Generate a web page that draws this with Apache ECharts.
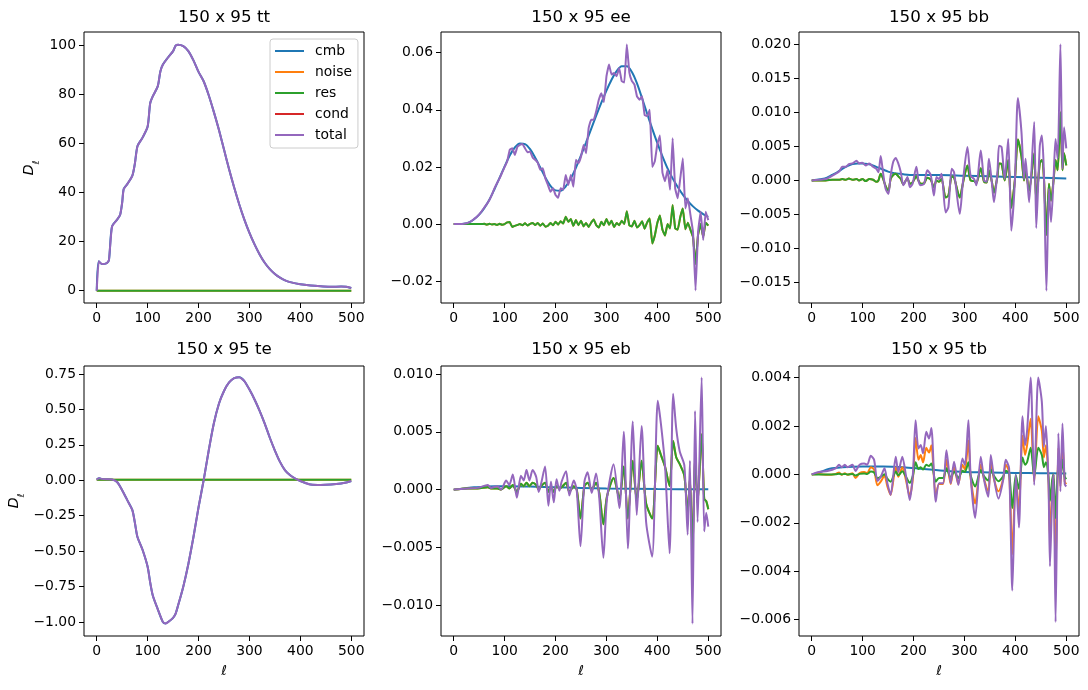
<!DOCTYPE html>
<html><head><meta charset="utf-8">
<script src="https://cdn.jsdelivr.net/npm/echarts@6/dist/echarts.min.js"></script>
<style>html,body{margin:0;padding:0;background:#fff}#c{width:1088px;height:690px}</style>
</head><body><div id="c"></div><script>
// ---------------- DATA ----------------
const seriesNames = ['cmb', 'noise', 'res', 'cond', 'total'];
const seriesColors = ['#1f77b4', '#ff7f0e', '#2ca02c', '#d62728', '#9467bd'];
const panelTitles = ['150 x 95 tt', '150 x 95 ee', '150 x 95 bb', '150 x 95 te', '150 x 95 eb', '150 x 95 tb'];

const xTicks = [0, 100, 200, 300, 400, 500];
const xTickLabels = ['0', '100', '200', '300', '400', '500'];

const ttYTicks = [0, 20, 40, 60, 80, 100];
const ttYLabels = ['0', '20', '40', '60', '80', '100'];
const eeYTicks = [-0.02, 0, 0.02, 0.04, 0.06];
const eeYLabels = ['\u22120.02', '0.00', '0.02', '0.04', '0.06'];
const bbYTicks = [-0.015, -0.01, -0.005, 0, 0.005, 0.01, 0.015, 0.02];
const bbYLabels = ['\u22120.015', '\u22120.010', '\u22120.005', '0.000', '0.005', '0.010', '0.015', '0.020'];
const teYTicks = [-1, -0.75, -0.5, -0.25, 0, 0.25, 0.5, 0.75];
const teYLabels = ['\u22121.00', '\u22120.75', '\u22120.50', '\u22120.25', '0.00', '0.25', '0.50', '0.75'];
const ebYTicks = [-0.01, -0.005, 0, 0.005, 0.01];
const ebYLabels = ['\u22120.010', '\u22120.005', '0.000', '0.005', '0.010'];
const tbYTicks = [-0.006, -0.004, -0.002, 0, 0.002, 0.004];
const tbYLabels = ['\u22120.006', '\u22120.004', '\u22120.002', '0.000', '0.002', '0.004'];

// flat (zero-level) series end points
const flatEll = [0, 500];
const ttRes = [0, 0];
const teRes = [0.003, 0.003];

// tt
const ttEll = [0,4,10,20,24,30,40,46,50,53,60,70,75,80,90,100,105,110,120,125,130,140,150,155,160,170,180,190,200,210,220,230,240,250,260,270,280,290,300,310,320,330,340,350,360,370,380,400,420,440,460,480,490,500];
const ttTotal = [0,12.0,10.9,11.3,12.5,26.2,29.0,31.0,36,41.5,43.5,47,52,59,62.5,67,76.5,79.3,83.5,89.5,92.3,95.2,97.8,100.0,100.4,99.8,97.8,94.0,89.3,85.5,79.8,73.0,65.7,57.6,49.6,42.1,35.2,29.0,23.6,18.9,14.8,11.4,8.8,6.8,5.3,4.2,3.5,2.6,2.1,1.8,1.6,1.7,1.6,1.1];

// te
const teEll = [0,5,10,20,30,40,50,60,70,75,80,90,100,105,110,120,130,135,140,150,155,160,170,180,190,200,210,220,230,240,250,260,270,280,290,300,310,320,330,340,350,360,370,380,390,400,410,420,440,460,480,490,500];
const teTotal = [0.005,0.014,0.010,0.007,0.005,-0.012,-0.07,-0.14,-0.21,-0.30,-0.40,-0.49,-0.61,-0.72,-0.81,-0.91,-1.00,-1.01,-1.00,-0.97,-0.94,-0.88,-0.75,-0.59,-0.40,-0.19,0.00,0.21,0.40,0.54,0.63,0.69,0.72,0.727,0.70,0.64,0.57,0.49,0.40,0.30,0.21,0.13,0.07,0.035,0.012,-0.005,-0.019,-0.030,-0.033,-0.030,-0.023,-0.016,-0.005];

// ee (multipoles every 5 for noisy, every 10 for cmb)
const ell5 = []; for (let l = 0; l <= 500; l += 5) ell5.push(l);
const ell10 = []; for (let l = 0; l <= 500; l += 10) ell10.push(l);
const eeCmb = [0,0,0.0001,0.0006,0.0017,0.0033,0.0056,0.0085,0.0122,0.0162,0.0202,0.0240,0.0268,0.0282,0.0280,0.0262,0.0232,0.0198,0.0163,0.0134,0.0118,0.0117,0.0132,0.0160,0.0197,0.0240,0.0286,0.0333,0.0380,0.0425,0.0467,0.0505,0.0535,0.0552,0.0552,0.0532,0.0492,0.0440,0.0386,0.0333,0.0283,0.0237,0.0195,0.0160,0.0130,0.0103,0.0080,0.0062,0.0047,0.0035,0.0025];
const eeTotal = [
 0,0,0,0,0.0001,0.0003,0.0006,0.0011,0.0018,0.0025,
 0.0034,0.0045,0.0058,0.0070,0.0084,0.0103,0.0125,0.0143,0.0160,0.0180,
 0.0200,0.0219,0.0260,0.0265,0.0242,0.0270,0.0277,0.0280,0.0265,0.0251,
 0.0254,0.0233,0.0225,0.0215,0.0190,0.0195,0.0160,0.0137,0.0113,0.0125,
 0.0102,0.0092,0.0125,0.0120,0.0172,0.0137,0.0172,0.0131,0.0225,0.0213,
 0.0236,0.0277,0.0248,0.0336,0.0365,0.0365,0.0396,0.0435,0.0458,0.0427,
 0.0517,0.0558,0.0523,0.0529,0.0517,0.0546,0.0500,0.0495,0.0628,0.0530,
 0.0500,0.0488,0.0447,0.0435,0.0447,0.0382,0.0377,0.0400,0.0200,0.0220,
 0.0280,0.0310,0.0180,0.0150,0.0190,0.0120,0.0300,0.0125,0.0090,0.0160,
 0.0230,0.0055,0.0090,0.0032,-0.0027,-0.0232,-0.0027,0.0043,-0.0056,0.0043,
 0.0014];
const eeRes = [
 0,0,0,0,0,0,0,0,0,0,
 0,0,0.0001,-0.0002,0.0001,-0.0001,0,-0.0003,0.0001,-0.0002,
 0,0.0006,0.0007,-0.0010,-0.0006,-0.0003,0,-0.0004,0.0003,-0.0005,
 0.0001,0.0004,-0.0003,0.0004,-0.0006,0.0002,-0.0009,-0.0006,0.0004,-0.0004,
 0.0008,-0.0002,0.0010,0.0002,0.0026,0.0008,0.0018,-0.0006,0.0014,-0.0004,
 0.0012,-0.0008,0.0004,-0.0010,0.0005,0.0016,-0.0004,-0.0012,0.0008,-0.0004,
 0.0018,-0.0002,0.0012,-0.0010,0.0004,-0.0004,0.0012,0.0000,0.0045,-0.0005,
 -0.0008,0.0012,-0.0012,-0.0004,0.0010,-0.0016,0.0006,0.0020,-0.0068,-0.0040,
 0.0005,0.0030,-0.0020,-0.0040,0.0000,-0.0015,0.0067,-0.0015,-0.0020,0.0025,
 0.0055,-0.0018,0.0005,-0.0020,-0.0045,-0.0140,-0.0037,0.0000,-0.0045,0.0005,
 -0.0005];

// bb
const bbCmbEll = [0,10,20,30,40,50,60,70,80,90,100,110,120,130,140,150,160,170,180,200,250,300,350,400,450,500];
const bbCmb = [0,0.0001,0.0002,0.0004,0.0008,0.0012,0.0017,0.0021,0.0024,0.0025,0.0025,0.0024,0.0022,0.0019,0.0016,0.0013,0.0011,0.0010,0.0009,0.0008,0.0008,0.0007,0.0006,0.0005,0.0004,0.0003];
const bbEll = [0,14,27.5,40.6,53.7,60,67,73,80,88,93,99.5,106,113,120.5,127,131,135.5,140,145,150.6,155,160,165,170,175,180,184.7,188,193,198,205.6,209.6,214,220.7,227,233.8,240,245,250,255,263,268.5,275,279.6,290.8,297,305.8,312,319,323.5,332,338.6,343.8,348,353.6,358,364.8,368,373,379,386,392,399,405,412,417,420,427,437,441,448,452,456,461,466,470,475,479,483,488.5,492.5,495.7,500];
const bbTotal = [0,0.0001,0.0002,0.0007,0.0013,0.0020,0.0020,0.0024,0.0025,0.0029,
 0.0025,0.0026,0.0022,0.0025,0.0020,0.0017,0.0012,0.0036,0.0012,-0.0012,
 -0.0020,0.0007,0.0027,0.0033,0.0025,0.0012,-0.0007,0.0,0.0005,-0.0010,
 -0.0005,0.0020,0.0,-0.0007,-0.0005,0.0015,0.0008,-0.0022,0.0005,0.0002,
 0.0010,-0.0047,-0.0039,0.0017,0.0012,-0.0049,-0.0002,0.0049,0.0007,0.0002,
 -0.0007,0.0044,0.0,-0.0002,0.0032,-0.0002,-0.0032,0.0012,0.0051,0.0049,
 0.0002,0.0061,-0.0074,-0.0002,0.0121,0.0071,0.0002,0.0032,-0.0032,0.0086,
 -0.0070,0.0051,0.0066,0.0012,-0.0162,-0.0012,-0.0061,0.0002,0.0061,0.0032,
 0.0200,0.0017,0.0078,0.0047];
const bbRes = [0,0,0,0.0001,0.0001,0.0002,0.0001,0.0003,0.0001,0.0002,
 0.0,0.0002,-0.0001,0.0002,0.0001,-0.0002,0.0,0.0010,0.0003,-0.0008,
 -0.0015,0.0002,0.0008,0.0010,0.0006,0.0002,-0.0006,0.0,0.0003,-0.0005,
 -0.0003,0.0006,0.0,-0.0005,-0.0004,0.0004,0.0001,-0.0010,0.0,-0.0002,
 0.0002,-0.0025,-0.0022,0.0006,0.0004,-0.0025,-0.0004,0.0022,0.0,-0.0001,
 -0.0004,0.0018,-0.0002,-0.0003,0.0015,-0.0001,-0.0018,0.0006,0.0025,0.0024,
 0.0,0.0030,-0.0040,0.0,0.0060,0.0035,0.0,0.0015,-0.0015,0.0040,
 -0.0030,0.0025,0.0030,0.0005,-0.0080,-0.0005,-0.0030,0.0,0.0030,0.0015,
 0.0100,0.0015,0.0040,0.0022];

// eb
const ebCmbEll = [0,20,40,60,80,100,150,200,250,300,400,500];
const ebCmb = [0,0.0001,0.0002,0.00025,0.0003,0.0003,0.00028,0.0002,0.00015,0.0001,0.00005,0.00003];
const ebEll = [0,27.5,47,67,73,86,93,103,109,116,124,132,137.5,143,148.6,155,162,167,171.6,179.4,186,191,196.5,202,207.6,212,220.7,227,235.8,241.7,249,256.7,263,271,279.6,286,294,301,314,325.5,334,342,351.7,359.5,369,377.9,389.7,400.8,407,415,424,431,437,444,453,459.5,464,469,474,479,487,492,496,500];
const ebTotal = [0,0.0001,0.00015,0.0004,0.00015,0.0003,0.0,0.0008,0.0004,0.0013,
 -0.0007,0.0012,0.0008,0.0017,0.0008,0.0017,0.0011,-0.0002,0.0005,0.0020,
 -0.0014,0.0007,-0.0011,0.0009,-0.0001,0.0007,0.0016,-0.0005,0.0008,-0.0001,
 -0.0049,0.0007,0.0015,-0.0003,0.0014,-0.0008,-0.0059,-0.0008,0.0022,-0.0016,
 0.0050,-0.0051,0.0059,-0.0022,0.0055,-0.0028,-0.0058,0.0077,0.0057,0.0021,
 -0.0055,0.0083,0.0053,0.0033,0.0021,-0.0039,0.0025,-0.0116,0.0068,-0.0028,
 0.0097,-0.0036,-0.0020,-0.0032];
const ebRes = [0,0.0001,0.0001,0.0002,0.0001,0.0001,0.0,0.0003,0.0001,0.0004,
 -0.0002,0.0005,0.0003,0.0006,0.0003,0.0006,0.0004,0.0,0.0003,0.0006,
 -0.0002,0.0003,-0.0002,0.0003,0.0001,0.0002,0.0006,-0.0002,0.0003,0.0,
 -0.0025,0.0003,0.0006,0.0,0.0006,-0.0003,-0.0030,-0.0006,0.0010,-0.0008,
 0.0020,-0.0025,0.0025,-0.0010,0.0025,-0.0012,-0.0025,0.0038,0.0030,0.0020,
 0.0003,0.0042,0.0028,0.0022,0.0012,-0.0020,0.0010,-0.0055,0.0030,-0.0012,
 0.0048,-0.0008,-0.0010,-0.0017];

// tb
const tbCmbEll = [0,10,20,30,40,60,100,140,180,220,260,300,350,400,450,500];
const tbCmb = [0,0.00005,0.00012,0.0002,0.00025,0.0003,0.00033,0.00033,0.0003,0.00022,0.00015,0.0001,0.00008,0.00006,0.00005,0.00004];
const tbEll = [0,14,31,47,53.7,59,65,70,80,86,94,103,109,116,122.5,129,135.5,143,148.6,155,165,170,178,184.7,192.5,199,204,209.6,214,218.7,225,230.5,235,243.6,250,258,264.6,273,279.6,288,296,301,307.8,312,321,332,338.6,347,351.7,358,366.7,376,381,387.7,394,400.8,407,414,419,423,430,437,445,452,456,460,465,468,472.5,475,479,484.5,488.5,492.5,497,500];
const tbTotal = [0,0.0001,0.00014,0.00025,0.0004,0.0003,0.0004,0.0003,0.0004,0.00014,
 0.0004,0.00045,0.0004,0.00077,0.0006,-0.00027,-0.0001,0.00025,-0.00037,-0.00085,
 0.00073,0.0001,0.00073,0,-0.00106,0.0001,0.00224,0.00107,0.00121,0.00087,
 0.00176,0.00148,0.00192,-0.00113,-0.00037,-0.00037,0.001,-0.00037,0.00052,-0.00044,
 0.00066,0.00038,0.00224,0,-0.0018,0.00073,-0.00023,-0.00092,0.0008,-0.00016,
 -0.001,-0.00023,0.0006,0.00025,-0.0048,0,-0.0022,0.0024,0.0012,0.0018,
 0.004,-0.00044,0.004,0.003,0.00114,0.002,-0.0003,-0.0038,-0.0007,0,
 -0.0061,0.0017,-0.0007,0.0021,-0.0004,-0.0005];
const tbNoise = [0,0.00002,-0.00002,0.00002,0.00008,-0.00002,0.00005,-0.00002,0.00005,-0.00015,
 0.00005,0.0001,0.00005,0.0003,0.0002,-0.00045,-0.0003,-0.00005,-0.0005,-0.00085,
 0.0003,-0.0001,0.0003,-0.0002,-0.0009,-0.0001,0.0015,0.0006,0.0008,0.0005,
 0.0011,0.0009,0.0012,-0.0009,-0.0004,-0.0004,0.0006,-0.0004,0.0003,-0.0004,
 0.0004,0.0002,0.0014,-0.0001,-0.0012,0.0004,-0.0002,-0.0007,0.0005,-0.0002,
 -0.0007,-0.0002,0.0004,0.0001,-0.0033,-0.0001,-0.0015,0.0016,0.0008,0.0012,
 0.0023,-0.0003,0.0024,0.0018,0.0007,0.0012,-0.0002,-0.0027,-0.0005,0,
 -0.0040,0.0011,-0.0005,0.0013,-0.0003,-0.0004];
const tbRes = [0,0,0,0.00001,0.00003,0,0.00002,0,0.00002,-0.00005,
 0.00002,0.00004,0.00002,0.00012,0.00008,-0.00016,-0.0001,0.00001,-0.00018,-0.0003,
 0.00012,-0.00004,0.00013,-0.00008,-0.00035,-0.00003,0.0005,0.00022,0.0003,0.0002,
 0.0004,0.00035,0.00045,-0.0003,-0.00015,-0.00015,0.00025,-0.00014,0.00012,-0.00015,
 0.00015,0.0001,0.0005,-0.00004,-0.0005,0.00018,-0.00008,-0.00025,0.0002,-0.00006,
 -0.00028,-0.00008,0.00015,0.00005,-0.0014,-0.00003,-0.0006,0.0007,0.0004,0.0005,
 0.0011,-0.0001,0.0011,0.0008,0.0003,0.0005,-0.0001,-0.0011,-0.0002,0,
 -0.0018,0.0005,-0.0002,0.0006,-0.0001,-0.0002];

// ---------------- LAYOUT ----------------
const FONT = 'DejaVu Sans';
const pts = (xs, ys) => xs.map((x, i) => [x, ys[i]]);
const colLeft = [84, 441, 799];
const rowTop = [32, 366];
const PW = 280, PH = 271;

const panels = [
  { yr: [-5.02, 105.6], yt: ttYTicks, yl: ttYLabels, smooth: 0.15,
    cmb: [ttEll, ttTotal], noise: [flatEll, ttRes], res: [flatEll, ttRes], total: [ttEll, ttTotal] },
  { yr: [-0.0276, 0.0672], yt: eeYTicks, yl: eeYLabels, smooth: 0.1,
    cmb: [ell10, eeCmb], noise: [ell5, eeRes], res: [ell5, eeRes], total: [ell5, eeTotal] },
  { yr: [-0.0180, 0.0218], yt: bbYTicks, yl: bbYLabels, smooth: 0.25,
    cmb: [bbCmbEll, bbCmb], noise: [bbEll, bbRes], res: [bbEll, bbRes], total: [bbEll, bbTotal] },
  { yr: [-1.098, 0.806], yt: teYTicks, yl: teYLabels, smooth: 0.15,
    cmb: [teEll, teTotal], noise: [flatEll, teRes], res: [flatEll, teRes], total: [teEll, teTotal] },
  { yr: [-0.01267, 0.01070], yt: ebYTicks, yl: ebYLabels, smooth: 0.25,
    cmb: [ebCmbEll, ebCmb], noise: [ebEll, ebRes], res: [ebEll, ebRes], total: [ebEll, ebTotal] },
  { yr: [-0.00668, 0.00448], yt: tbYTicks, yl: tbYLabels, smooth: 0.25,
    cmb: [tbCmbEll, tbCmb], noise: [tbEll, tbNoise], res: [tbEll, tbRes], total: [tbEll, tbTotal] }
];

const grids = [], xAxes = [], yAxes = [], series = [], graphics = [];
const labelFmt = (ticks, labels) => v => {
  for (let i = 0; i < ticks.length; i++) if (Math.abs(ticks[i] - v) < 1e-9) return labels[i];
  return '';
};

panels.forEach((p, i) => {
  const row = Math.floor(i / 3), col = i % 3;
  const left = colLeft[col], top = rowTop[row];
  const h = row === 0 ? PH : PH - 1;
  grids.push({ left: left, top: top, width: PW, height: h, show: true,
    borderColor: '#000', borderWidth: 1, backgroundColor: 'transparent', containLabel: false, outerBoundsMode: 'none' });
  xAxes.push({ type: 'value', gridIndex: i, min: -25, max: 525, splitLine: { show: false },
    axisLine: { show: false, onZero: false },
    axisTick: { show: true, length: 5, customValues: xTicks, lineStyle: { color: '#000', width: 1 } },
    axisLabel: { customValues: xTicks, formatter: labelFmt(xTicks, xTickLabels), color: '#000',
      fontSize: 13.9, fontFamily: FONT, margin: 8 } });
  yAxes.push({ type: 'value', gridIndex: i, min: p.yr[0], max: p.yr[1], splitLine: { show: false },
    axisLine: { show: false, onZero: false },
    axisTick: { show: true, length: 5, customValues: p.yt, lineStyle: { color: '#000', width: 1 } },
    axisLabel: { customValues: p.yt, formatter: labelFmt(p.yt, p.yl), color: '#000',
      fontSize: 13.9, fontFamily: FONT, margin: 8 } });
  seriesNames.forEach((nm, k) => {
    const d = p[nm];
    series.push({ name: nm, type: 'line', xAxisIndex: i, yAxisIndex: i,
      data: d ? pts(d[0], d[1]) : [],
      showSymbol: false, symbol: 'none', smooth: nm === 'cmb' ? 0.3 : p.smooth,
      color: seriesColors[k], lineStyle: { width: 2, color: seriesColors[k] },
      silent: true, animation: false, z: 2 + k });
  });
  // title
  graphics.push({ type: 'text', x: left + PW / 2, y: row === 0 ? 18 : 350,
    style: { text: panelTitles[i], font: '16.7px "DejaVu Sans"', fill: '#000',
      textAlign: 'center', textVerticalAlign: 'middle' } });
  if (row === 1) {
    graphics.push({ type: 'text', x: left + PW / 2, y: 671,
      style: { text: '\u2113', font: 'italic 13.9px "DejaVu Sans"', fill: '#000',
        textAlign: 'center', textVerticalAlign: 'middle' } });
  }
});

// y axis label D_ell on first column
[[32, 168], [17, 501]].forEach(([x, y]) => {
  graphics.push({ type: 'text', x: x, y: y, rotation: Math.PI / 2,
    style: { text: '{d|D}{s|\u2113}', fill: '#000', textAlign: 'center', textVerticalAlign: 'middle',
      rich: { d: { fontSize: 14, fontStyle: 'italic', fontFamily: FONT, lineHeight: 16, verticalAlign: 'top' },
              s: { fontSize: 9.5, fontStyle: 'italic', fontFamily: FONT, lineHeight: 19, verticalAlign: 'bottom' } } } });
});

const option = {
  backgroundColor: '#fff',
  animation: false,
  grid: grids, xAxis: xAxes, yAxis: yAxes, series: series,
  legend: { data: seriesNames, orient: 'vertical', left: 270, top: 39,
    icon: 'rect', itemWidth: 29, itemHeight: 2, itemGap: 5, selectedMode: false,
    padding: [4, 6, 5, 5], borderColor: '#cccccc', borderWidth: 1, borderRadius: 3,
    backgroundColor: 'rgba(255,255,255,0.8)',
    textStyle: { fontSize: 13.9, fontFamily: FONT, color: '#000', lineHeight: 16, padding: [0, 0, 0, 6] } },
  graphic: { elements: graphics }
};
const chart = echarts.init(document.getElementById('c'), null, { renderer: 'canvas' });
chart.setOption(option);
</script></body></html>
